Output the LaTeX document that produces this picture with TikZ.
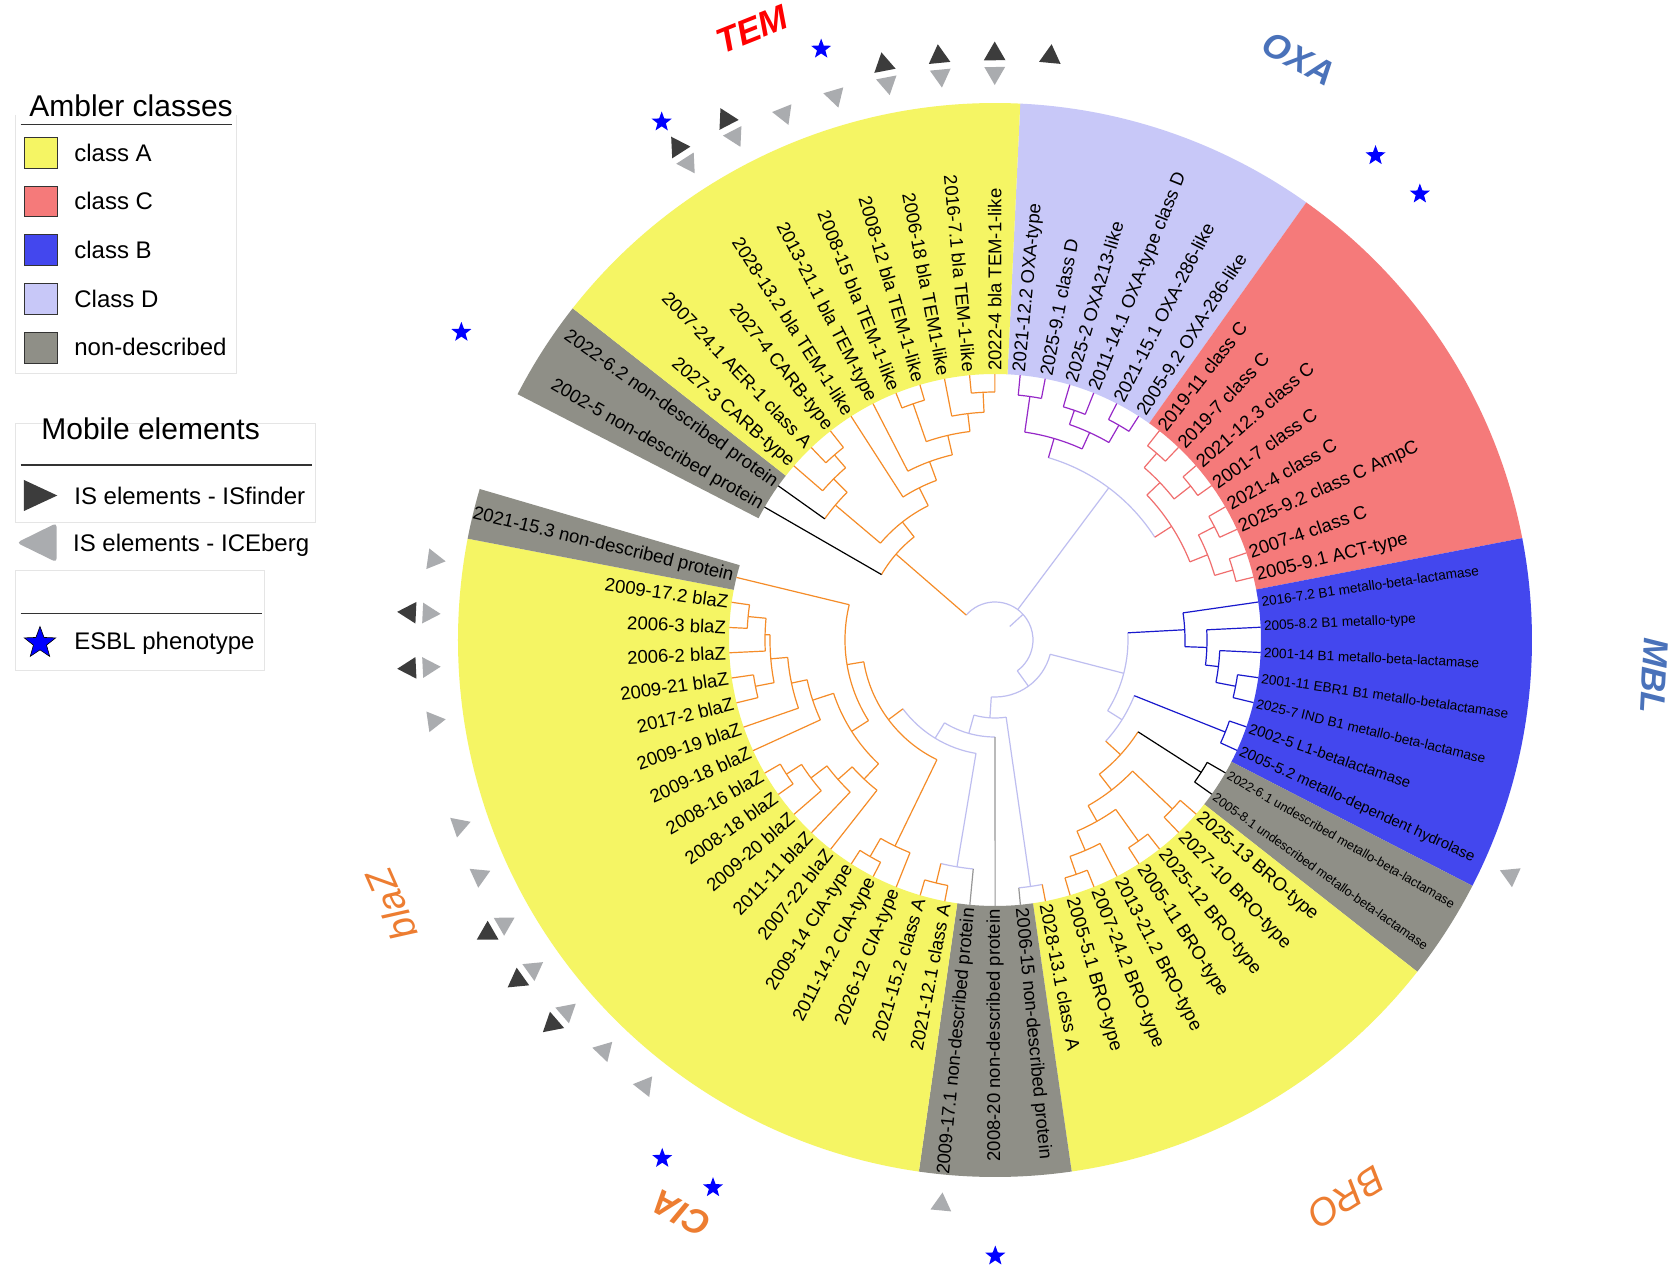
\documentclass[tikz,border=0pt]{standalone}
\usepackage{fontspec}
\setmainfont{Liberation Sans}
\usetikzlibrary{shapes.geometric}

\definecolor{clsA}{RGB}{245,245,100}
\definecolor{clsC}{RGB}{245,122,122}
\definecolor{clsB}{RGB}{67,71,238}
\definecolor{clsD}{RGB}{200,200,248}
\definecolor{clsN}{RGB}{143,143,135}
\definecolor{brA}{RGB}{245,140,40}
\definecolor{brD}{RGB}{150,40,200}
\definecolor{brC}{RGB}{240,110,110}
\definecolor{brB}{RGB}{25,25,205}
\definecolor{brR}{RGB}{190,190,240}
\definecolor{brN}{RGB}{150,150,150}
\definecolor{isdark}{RGB}{60,60,60}
\definecolor{islight}{RGB}{170,172,175}
\definecolor{esbl}{RGB}{0,0,255}
\definecolor{grpred}{RGB}{255,0,0}
\definecolor{grpblue}{RGB}{74,114,186}
\definecolor{grporange}{RGB}{237,125,49}

\newcommand{\slotang}[1]{(87.3-(#1-0.5)*5.4545)}
\newcommand{\ringpart}[3]{\fill[#1] ({\slotang{#2}}:266) arc[start angle={\slotang{#2}}, end angle={\slotang{#3}}, radius=266] -- ({\slotang{#3}}:537) arc[start angle={\slotang{#3}}, end angle={\slotang{#2}}, radius=537] -- cycle;}
\newcommand{\tarc}[4]{\draw[#1] ({\slotang{#3}}:#2) arc[start angle={\slotang{#3}}, end angle={\slotang{#4}}, radius=#2];}
\newcommand{\tstem}[4]{\draw[#1] ({\slotang{#2}}:#3) -- ({\slotang{#2}}:#4);}
\newcommand{\tpair}[4]{\tarc{#1}{#2}{#3}{#4}\tstem{#1}{#3}{#2}{266}\tstem{#1}{#4}{#2}{266}}

\begin{document}
\begin{tikzpicture}[x=0.5pt, y=0.5pt,
    tA/.style={brA, line width=0.6pt},
    tD/.style={brD, line width=0.6pt},
    tC/.style={brC, line width=0.6pt},
    tB/.style={brB, line width=0.6pt},
    tR/.style={brR, line width=0.6pt},
    tN/.style={brN, line width=0.6pt},
    tK/.style={black, line width=0.6pt},
    leafR/.style={anchor=west, inner sep=1.5pt, font=\fontsize{9.25}{11}\selectfont},
    leafL/.style={anchor=east, inner sep=1.5pt, font=\fontsize{9.25}{11}\selectfont},
    mbl/.style={font=\fontsize{6.8}{8}\selectfont},
    mblb/.style={font=\fontsize{7.5}{9}\selectfont},
    und/.style={font=\fontsize{6.4}{8}\selectfont},
    isf/.style={regular polygon, regular polygon sides=3, fill=isdark, inner sep=0pt, minimum size=12.5pt},
    ice/.style={regular polygon, regular polygon sides=3, fill=islight, inner sep=0pt, minimum size=12pt},
    esb/.style={star, star points=5, star point ratio=2.4, fill=esbl, inner sep=0pt, minimum size=10.5pt},
    grp/.style={font=\fontsize{17.5}{20}\selectfont\bfseries\itshape},
    grplight/.style={font=\fontsize{19}{22}\selectfont\itshape},
    legtitle/.style={anchor=base west, inner sep=0pt, font=\fontsize{15}{18}\selectfont},
    legitem/.style={anchor=west, inner sep=0pt, font=\fontsize{12}{14}\selectfont},
    legbox/.style={draw=black!10, line width=0.5pt}]

\useasboundingbox (-995,-629) rectangle (674,640);
\fill[white] (-995,-629) rectangle (674,640);

\ringpart{clsD}{0.5}{6.5}
\ringpart{clsC}{6.5}{14.5}
\ringpart{clsB}{14.5}{21.5}
\ringpart{clsN}{21.5}{23.5}
\ringpart{clsA}{23.5}{31.5}
\ringpart{clsN}{31.5}{34.5}
\ringpart{clsA}{34.5}{51.5}
\ringpart{clsN}{51.5}{52.5}
\ringpart{clsN}{54.5}{56.5}
\ringpart{clsA}{56.5}{66.5}

% root
\tstem{tR}{8.7175}{20}{38}
\tarc{tR}{38}{-8.992}{26.427}
\tstem{tR}{6.75}{38}{190}
\tstem{tR}{26.427}{38}{57}
\tstem{tA}{-8.992}{38}{131}

% class D and class C
\tarc{tR}{190}{3}{10.5}
\tstem{tD}{3}{190}{210}
\tstem{tC}{10.5}{190}{210}
\tarc{tD}{210}{1.5}{4.5}
\tstem{tD}{1.5}{210}{246}
\tstem{tD}{4.5}{210}{228}
\tpair{tD}{246}{1}{2}
\tarc{tD}{228}{3.5}{5.5}
\tstem{tD}{3.5}{228}{243}
\tstem{tD}{5.5}{228}{248}
\tpair{tD}{243}{3}{4}
\tpair{tD}{248}{5}{6}
\tarc{tC}{210}{8.5}{12.5}
\tstem{tC}{8.5}{210}{228}
\tstem{tC}{12.5}{210}{229}
\tarc{tC}{228}{7.5}{9.5}
\tstem{tC}{7.5}{228}{247}
\tstem{tC}{9.5}{228}{249}
\tpair{tC}{247}{7}{8}
\tpair{tC}{249}{9}{10}
\tarc{tC}{229}{11.5}{13.5}
\tstem{tC}{11.5}{229}{247}
\tstem{tC}{13.5}{229}{248}
\tpair{tC}{247}{11}{12}
\tpair{tC}{248}{13}{14}

% class B and BRO
\tarc{tR}{57}{19.164}{33.689}
\tstem{tR}{19.164}{57}{133}
\tstem{tR}{33.689}{57}{78}
\tarc{tR}{133}{15.9375}{22.391}
\tstem{tB}{15.9375}{133}{190}
\tstem{tR}{22.391}{133}{150}
\tarc{tB}{190}{15}{16.875}
\tstem{tB}{15}{190}{266}
\tstem{tB}{16.875}{190}{212}
\tarc{tB}{212}{16}{17.75}
\tstem{tB}{16}{212}{266}
\tstem{tB}{17.75}{212}{225}
\tarc{tB}{225}{17}{18.5}
\tstem{tB}{17}{225}{266}
\tstem{tB}{18.5}{225}{245}
\tpair{tB}{245}{18}{19}
\tarc{tR}{150}{20.5}{24.281}
\tstem{tB}{20.5}{150}{248}
\tstem{tA}{24.281}{150}{170}
\tpair{tB}{248}{20}{21}
\tarc{tA}{170}{22.5}{26.0625}
\tstem{tK}{22.5}{170}{245}
\tstem{tA}{26.0625}{170}{190}
\tpair{tK}{245}{22}{23}
\tarc{tA}{190}{24.5}{27.625}
\tstem{tA}{24.5}{190}{245}
\tstem{tA}{27.625}{190}{208}
\tpair{tA}{245}{24}{25}
\tarc{tA}{208}{26.5}{28.75}
\tstem{tA}{26.5}{208}{247}
\tstem{tA}{28.75}{208}{229}
\tpair{tA}{247}{26}{27}
\tarc{tA}{229}{28}{29.5}
\tstem{tA}{28}{229}{266}
\tstem{tA}{29.5}{229}{248}
\tpair{tA}{248}{29}{30}

% non-described, CIA and blaZ
\tarc{tR}{78}{31.5}{35.878}
\tstem{tR}{31.5}{78}{249}
\tstem{tR}{35.878}{78}{97}
\tarc{tR}{249}{31}{32}
\tstem{tA}{31}{249}{266}
\tstem{tN}{32}{249}{266}
\tarc{tR}{97}{33}{38.756}
\tstem{tN}{33}{97}{266}
\tstem{tR}{38.756}{97}{115}
\tarc{tR}{115}{34.75}{42.762}
\tstem{tR}{34.75}{115}{230}
\tstem{tA}{42.762}{115}{133}
\tarc{tR}{230}{34}{35.5}
\tstem{tN}{34}{230}{266}
\tstem{tA}{35.5}{230}{250}
\tpair{tA}{250}{35}{36}
\tarc{tA}{133}{37.75}{47.773}
\tstem{tA}{37.75}{133}{229}
\tstem{tA}{47.773}{133}{150}
\tarc{tA}{229}{37}{38.5}
\tstem{tA}{37}{229}{266}
\tstem{tA}{38.5}{229}{250}
\tpair{tA}{250}{38}{39}
\tarc{tA}{150}{43.547}{52}
\tstem{tA}{43.547}{150}{170}
\tstem{tA}{52}{150}{266}
\tarc{tA}{170}{40.9375}{46.156}
\tstem{tA}{40.9375}{170}{191}
\tstem{tA}{46.156}{170}{192}
\tarc{tA}{191}{40}{41.875}
\tstem{tA}{40}{191}{266}
\tstem{tA}{41.875}{191}{210}
\tarc{tA}{210}{41}{42.75}
\tstem{tA}{41}{210}{266}
\tstem{tA}{42.75}{210}{230}
\tarc{tA}{230}{42}{43.5}
\tstem{tA}{42}{230}{266}
\tstem{tA}{43.5}{230}{248}
\tpair{tA}{248}{43}{44}
\tarc{tA}{192}{45}{47.3125}
\tstem{tA}{45}{192}{266}
\tstem{tA}{47.3125}{192}{208}
\tarc{tA}{208}{46}{48.625}
\tstem{tA}{46}{208}{266}
\tstem{tA}{48.625}{208}{225}
\tarc{tA}{225}{47.5}{49.75}
\tstem{tA}{47.5}{225}{244}
\tstem{tA}{49.75}{225}{230}
\tpair{tA}{244}{47}{48}
\tarc{tA}{230}{49}{50.5}
\tstem{tA}{49}{230}{266}
\tstem{tA}{50.5}{230}{248}
\tpair{tA}{248}{50}{51}

% TEM
\tarc{tA}{131}{55}{59.016}
\tstem{tK}{55}{131}{266}
\tstem{tA}{59.016}{131}{150}
\tarc{tA}{150}{56.875}{61.156}
\tstem{tA}{56.875}{150}{209}
\tstem{tA}{61.156}{150}{170}
\tarc{tA}{209}{56}{57.75}
\tstem{tK}{56}{209}{266}
\tstem{tA}{57.75}{209}{228}
\tarc{tA}{228}{57}{58.5}
\tstem{tA}{57}{228}{266}
\tstem{tA}{58.5}{228}{245}
\tpair{tA}{245}{58}{59}
\tarc{tA}{170}{60}{62.3125}
\tstem{tA}{60}{170}{266}
\tstem{tA}{62.3125}{170}{190}
\tarc{tA}{190}{61}{63.625}
\tstem{tA}{61}{190}{266}
\tstem{tA}{63.625}{190}{210}
\tarc{tA}{210}{62.5}{64.75}
\tstem{tA}{62.5}{210}{250}
\tstem{tA}{64.75}{210}{228}
\tpair{tA}{250}{62}{63}
\tarc{tA}{228}{64}{65.5}
\tstem{tA}{64}{228}{266}
\tstem{tA}{65.5}{228}{248}
\tpair{tA}{248}{65}{66}

% leaf labels
\node[leafR, rotate={\slotang{1}}] (l1) at ({\slotang{1}}:266) {2021-12.2 OXA-type};
\node[leafR, rotate={\slotang{2}}] (l2) at ({\slotang{2}}:266) {2025-9.1 class D};
\node[leafR, rotate={\slotang{3}}] (l3) at ({\slotang{3}}:266) {2025-2 OXA213-like};
\node[leafR, rotate={\slotang{4}}] (l4) at ({\slotang{4}}:266) {2011-14.1 OXA-type class D};
\node[leafR, rotate={\slotang{5}}] (l5) at ({\slotang{5}}:266) {2021-15.1 OXA-286-like};
\node[leafR, rotate={\slotang{6}}] (l6) at ({\slotang{6}}:266) {2005-9.2 OXA-286-like};
\node[leafR, rotate={\slotang{7}}] (l7) at ({\slotang{7}}:266) {2019-11 class C};
\node[leafR, rotate={\slotang{8}}] (l8) at ({\slotang{8}}:266) {2019-7 class C};
\node[leafR, rotate={\slotang{9}}] (l9) at ({\slotang{9}}:266) {2021-12.3 class C};
\node[leafR, rotate={\slotang{10}}] (l10) at ({\slotang{10}}:266) {2001-7 class C};
\node[leafR, rotate={\slotang{11}}] (l11) at ({\slotang{11}}:266) {2021-4 class C};
\node[leafR, rotate={\slotang{12}}] (l12) at ({\slotang{12}}:266) {2025-9.2 class C AmpC};
\node[leafR, rotate={\slotang{13}}] (l13) at ({\slotang{13}}:266) {2007-4 class C};
\node[leafR, rotate={\slotang{14}}] (l14) at ({\slotang{14}}:266) {2005-9.1 ACT-type};
\node[leafR, mbl, rotate={\slotang{15}}] (l15) at ({\slotang{15}}:266) {2016-7.2 B1 metallo-beta-lactamase};
\node[leafR, mbl, rotate={\slotang{16}}] (l16) at ({\slotang{16}}:266) {2005-8.2 B1 metallo-type};
\node[leafR, mbl, rotate={\slotang{17}}] (l17) at ({\slotang{17}}:266) {2001-14 B1 metallo-beta-lactamase};
\node[leafR, mbl, rotate={\slotang{18}}] (l18) at ({\slotang{18}}:266) {2001-11 EBR1 B1 metallo-betalactamase};
\node[leafR, mbl, rotate={\slotang{19}}] (l19) at ({\slotang{19}}:266) {2025-7 IND B1 metallo-beta-lactamase};
\node[leafR, mblb, rotate={\slotang{20}}] (l20) at ({\slotang{20}}:266) {2002-5 L1-betalactamase};
\node[leafR, mblb, rotate={\slotang{21}}] (l21) at ({\slotang{21}}:266) {2005-5.2 metallo-dependent hydrolase};
\node[leafR, und, rotate={\slotang{22}}] (l22) at ({\slotang{22}}:266) {2022-6.1 undescribed metallo-beta-lactamase};
\node[leafR, und, rotate={\slotang{23}}] (l23) at ({\slotang{23}}:266) {2005-8.1 undescribed metallo-beta-lactamase};
\node[leafR, rotate={\slotang{24}}] (l24) at ({\slotang{24}}:266) {2025-13 BRO-type};
\node[leafR, rotate={\slotang{25}}] (l25) at ({\slotang{25}}:266) {2027-10 BRO-type};
\node[leafR, rotate={\slotang{26}}] (l26) at ({\slotang{26}}:266) {2025-12 BRO-type};
\node[leafR, rotate={\slotang{27}}] (l27) at ({\slotang{27}}:266) {2005-11 BRO-type};
\node[leafR, rotate={\slotang{28}}] (l28) at ({\slotang{28}}:266) {2013-21.2 BRO-type};
\node[leafR, rotate={\slotang{29}}] (l29) at ({\slotang{29}}:266) {2007-24.2 BRO-type};
\node[leafR, rotate={\slotang{30}}] (l30) at ({\slotang{30}}:266) {2005-5.1 BRO-type};
\node[leafR, rotate={\slotang{31}}] (l31) at ({\slotang{31}}:266) {2028-13.1 class A};
\node[leafR, rotate={\slotang{32}}] (l32) at ({\slotang{32}}:266) {2006-15 non-described protein};
\node[leafL, rotate={\slotang{33}+180}] (l33) at ({\slotang{33}}:266) {2008-20 non-described protein};
\node[leafL, rotate={\slotang{34}+180}] (l34) at ({\slotang{34}}:266) {2009-17.1 non-described protein};
\node[leafL, rotate={\slotang{35}+180}] (l35) at ({\slotang{35}}:266) {2021-12.1 class A};
\node[leafL, rotate={\slotang{36}+180}] (l36) at ({\slotang{36}}:266) {2021-15.2 class A};
\node[leafL, rotate={\slotang{37}+180}] (l37) at ({\slotang{37}}:266) {2026-12 CIA-type};
\node[leafL, rotate={\slotang{38}+180}] (l38) at ({\slotang{38}}:266) {2011-14.2 CIA-type};
\node[leafL, rotate={\slotang{39}+180}] (l39) at ({\slotang{39}}:266) {2009-14 CIA-type};
\node[leafL, rotate={\slotang{40}+180}] (l40) at ({\slotang{40}}:266) {2007-22 blaZ};
\node[leafL, rotate={\slotang{41}+180}] (l41) at ({\slotang{41}}:266) {2011-11 blaZ};
\node[leafL, rotate={\slotang{42}+180}] (l42) at ({\slotang{42}}:266) {2009-20 blaZ};
\node[leafL, rotate={\slotang{43}+180}] (l43) at ({\slotang{43}}:266) {2008-18 blaZ};
\node[leafL, rotate={\slotang{44}+180}] (l44) at ({\slotang{44}}:266) {2008-16 blaZ};
\node[leafL, rotate={\slotang{45}+180}] (l45) at ({\slotang{45}}:266) {2009-18 blaZ};
\node[leafL, rotate={\slotang{46}+180}] (l46) at ({\slotang{46}}:266) {2009-19 blaZ};
\node[leafL, rotate={\slotang{47}+180}] (l47) at ({\slotang{47}}:266) {2017-2 blaZ};
\node[leafL, rotate={\slotang{48}+180}] (l48) at ({\slotang{48}}:266) {2009-21 blaZ};
\node[leafL, rotate={\slotang{49}+180}] (l49) at ({\slotang{49}}:266) {2006-2 blaZ};
\node[leafL, rotate={\slotang{50}+180}] (l50) at ({\slotang{50}}:266) {2006-3 blaZ};
\node[leafL, rotate={\slotang{51}+180}] (l51) at ({\slotang{51}}:266) {2009-17.2 blaZ};
\node[leafL, rotate={\slotang{52}+180}] (l52) at ({\slotang{52}}:266) {2021-15.3 non-described protein};
\node[leafL, rotate={\slotang{55}+180}] (l55) at ({\slotang{55}}:266) {2002-5 non-described protein};
\node[leafL, rotate={\slotang{56}+180}] (l56) at ({\slotang{56}}:266) {2022-6.2 non-described protein};
\node[leafL, rotate={\slotang{57}+180}] (l57) at ({\slotang{57}}:266) {2027-3 CARB-type};
\node[leafL, rotate={\slotang{58}+180}] (l58) at ({\slotang{58}}:266) {2007-24.1 AER-1 class A};
\node[leafL, rotate={\slotang{59}+180}] (l59) at ({\slotang{59}}:266) {2027-4 CARB-type};
\node[leafL, rotate={\slotang{60}+180}] (l60) at ({\slotang{60}}:266) {2028-13.2 bla TEM-1-like};
\node[leafL, rotate={\slotang{61}+180}] (l61) at ({\slotang{61}}:266) {2013-21.1 bla TEM-type};
\node[leafL, rotate={\slotang{62}+180}] (l62) at ({\slotang{62}}:266) {2008-15 bla TEM-1-like};
\node[leafL, rotate={\slotang{63}+180}] (l63) at ({\slotang{63}}:266) {2008-12 bla TEM-1-like};
\node[leafL, rotate={\slotang{64}+180}] (l64) at ({\slotang{64}}:266) {2006-18 bla TEM1-like};
\node[leafL, rotate={\slotang{65}+180}] (l65) at ({\slotang{65}}:266) {2016-7.1 bla TEM-1-like};
\node[leafR, rotate={\slotang{66}}] (l66) at ({\slotang{66}}:266) {2022-4 bla TEM-1-like};

% IS elements - ISfinder
\node[isf, rotate={\slotang{1}-90}] (d1) at ({\slotang{1}}:586) {};
\node[isf, rotate={\slotang{42}-90}] (d42) at ({\slotang{42}}:586) {};
\node[isf, rotate={\slotang{43}-90}] (d43) at ({\slotang{43}}:586) {};
\node[isf, rotate={\slotang{44}-90}] (d44) at ({\slotang{44}}:586) {};
\node[isf, rotate={\slotang{49}-90}] (d49) at ({\slotang{49}}:586) {};
\node[isf, rotate={\slotang{50}-90}] (d50) at ({\slotang{50}}:586) {};
\node[isf, rotate={\slotang{60}-90}] (d60) at ({\slotang{60}}:586) {};
\node[isf, rotate={\slotang{61}-90}] (d61) at ({\slotang{61}}:586) {};
\node[isf, rotate={\slotang{64}-90}] (d64) at ({\slotang{64}}:586) {};
\node[isf, rotate={\slotang{65}-90}] (d65) at ({\slotang{65}}:586) {};
\node[isf, rotate={\slotang{66}-90}] (d66) at ({\slotang{66}}:586) {};

% IS elements - ICEberg
\node[ice, rotate={\slotang{21}+90}] (c21) at ({\slotang{21}}:567) {};
\node[ice, rotate={\slotang{34}+90}] (c34) at ({\slotang{34}}:567) {};
\node[ice, rotate={\slotang{40}+90}] (c40) at ({\slotang{40}}:567) {};
\node[ice, rotate={\slotang{41}+90}] (c41) at ({\slotang{41}}:567) {};
\node[ice, rotate={\slotang{42}+90}] (c42) at ({\slotang{42}}:567) {};
\node[ice, rotate={\slotang{43}+90}] (c43) at ({\slotang{43}}:567) {};
\node[ice, rotate={\slotang{44}+90}] (c44) at ({\slotang{44}}:567) {};
\node[ice, rotate={\slotang{45}+90}] (c45) at ({\slotang{45}}:567) {};
\node[ice, rotate={\slotang{46}+90}] (c46) at ({\slotang{46}}:567) {};
\node[ice, rotate={\slotang{48}+90}] (c48) at ({\slotang{48}}:567) {};
\node[ice, rotate={\slotang{49}+90}] (c49) at ({\slotang{49}}:567) {};
\node[ice, rotate={\slotang{50}+90}] (c50) at ({\slotang{50}}:567) {};
\node[ice, rotate={\slotang{51}+90}] (c51) at ({\slotang{51}}:567) {};
\node[ice, rotate={\slotang{60}+90}] (c60) at ({\slotang{60}}:567) {};
\node[ice, rotate={\slotang{61}+90}] (c61) at ({\slotang{61}}:567) {};
\node[ice, rotate={\slotang{62}+90}] (c62) at ({\slotang{62}}:567) {};
\node[ice, rotate={\slotang{63}+90}] (c63) at ({\slotang{63}}:567) {};
\node[ice, rotate={\slotang{64}+90}] (c64) at ({\slotang{64}}:567) {};
\node[ice, rotate={\slotang{65}+90}] (c65) at ({\slotang{65}}:567) {};
\node[ice, rotate={\slotang{66}+90}] (c66) at ({\slotang{66}}:567) {};

% ESBL phenotype
\node[esb] (s7) at ({\slotang{7}}:616) {};
\node[esb] (s8) at ({\slotang{8}}:616) {};
\node[esb] (s33) at ({\slotang{33}}:616) {};
\node[esb] (s38) at ({\slotang{38}}:616) {};
\node[esb] (s39) at ({\slotang{39}}:616) {};
\node[esb] (s55) at ({\slotang{55}}:616) {};
\node[esb] (s60) at ({\slotang{60}}:616) {};
\node[esb] (s63) at ({\slotang{63}}:616) {};

% group names
\node[grp, text=grpred, rotate=21.7] (gTEM) at (111.7:657) {TEM};
\node[grp, text=grpblue, rotate=-27.6] (gOXA) at (62.4:656) {OXA};
\node[grp, text=grpblue, rotate=-93.1] (gMBL) at (-3.1:660) {MBL};
\node[grplight, text=grporange, rotate=-147.8] (gBRO) at (-57.8:659) {BRO};
\node[grp, text=grporange, rotate=151.3] (gCIA) at (241.3:654) {CIA};
\node[grplight, text=grporange, rotate=113.7] (gblaZ) at (203.7:659) {blaZ};

% legend
\draw[legbox] (-979,525) -- (-979,266) -- (-758.3,266) -- (-758.3,525);
\node[legtitle] (ambler) at (-966,523) {Ambler classes};
\draw[black!80, line width=0.6pt] (-974.3,515.2) -- (-763.3,515.2);
\filldraw[fill=clsA, draw=black!80] (-971,503) rectangle (-937.7,472);
\filldraw[fill=clsC, draw=black!80] (-971,454) rectangle (-937.7,423.3);
\filldraw[fill=clsB, draw=black!80] (-971,405.4) rectangle (-937.7,374.4);
\filldraw[fill=clsD, draw=black!80] (-971,356.7) rectangle (-937.7,325.7);
\filldraw[fill=clsN, draw=black!80] (-971,308) rectangle (-937.7,277);
\node[legitem] (kA) at (-921,487) {class A};
\node[legitem] (kC) at (-921,439) {class C};
\node[legitem] (kB) at (-921,390.2) {class B};
\node[legitem] (kD) at (-921,341.5) {Class D};
\node[legitem] (kN) at (-921,293) {non-described};

\draw[legbox] (-979,216.5) rectangle (-679,117);
\node[legtitle] (mobile) at (-954,200.5) {Mobile elements};
\draw[black!80, line width=0.6pt] (-974.3,175) -- (-683.3,175);
\fill[isdark] (-971,160) -- (-971,129) -- (-937.7,144.5) -- cycle;
\node[legitem] (kisf) at (-921,144.5) {IS elements - ISfinder};
\fill[islight, rounded corners=2pt] (-938.3,117) -- (-938.3,77.7) -- (-978.3,97.3) -- cycle;
\node[legitem] (kice) at (-922.3,95.2) {IS elements - ICEberg};

\draw[legbox] (-979,69.9) rectangle (-730,-30.4);
\draw[black!80, line width=0.6pt] (-974.3,26.6) -- (-733.3,26.6);
\node[star, star points=5, star point ratio=2.4, fill=esbl, draw=black, line width=0.3pt, inner sep=0pt, minimum size=16.5pt] (kstar) at (-955,-3) {};
\node[legitem] (kesbl) at (-921,-3) {ESBL phenotype};

\end{tikzpicture}
\end{document}
